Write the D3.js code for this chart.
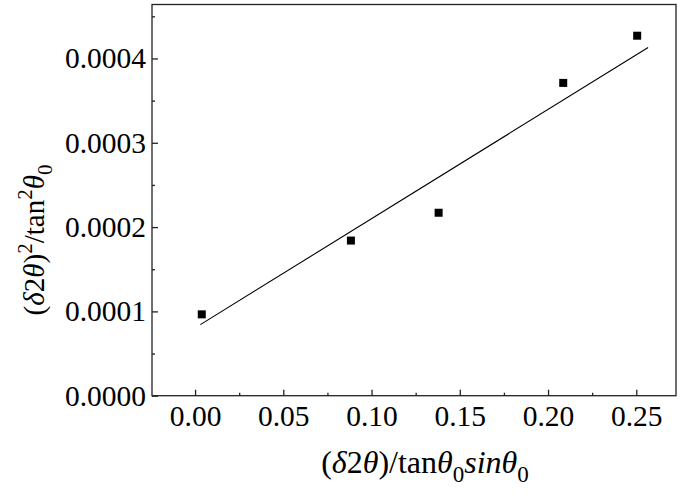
<!DOCTYPE html>
<html>
<head>
<meta charset="utf-8">
<script src="https://cdn.jsdelivr.net/npm/d3@7"></script>
<style>
  body { margin: 0; background: #fff; }
  text { font-family: "Liberation Serif", "Times New Roman", serif; }
</style>
</head>
<body>
<div id="chart"></div>
<script>
// measured points
var ptX = [0.0038, 0.0883, 0.138, 0.2086, 0.2505];
var ptY = [0.0000965, 0.000184, 0.000217, 0.000371, 0.000427];

// fitted line end points
var fitX = [0.003, 0.2567];
var fitY = [0.0000843, 0.000413];

var xTicks = [0.00, 0.05, 0.10, 0.15, 0.20, 0.25];
var xMinor = [0.025, 0.075, 0.125, 0.175, 0.225];
var yTicks = [0.0000, 0.0001, 0.0002, 0.0003, 0.0004];
var yMinor = [0.00005, 0.00015, 0.00025, 0.00035, 0.00045];

var w = 685, h = 500;
var pLeft = 152, pTop = 4.5, pRight = 676, pBottom = 395.7;

var x = d3.scaleLinear().domain([-0.0244, 0.2725]).range([pLeft, pRight]);
var y = d3.scaleLinear().domain([0, 0.000464]).range([pBottom, pTop]);

var svg = d3.select("#chart").append("svg")
    .attr("width", w)
    .attr("height", h);

// frame
svg.append("rect")
    .attr("x", pLeft).attr("y", pTop)
    .attr("width", pRight - pLeft).attr("height", pBottom - pTop)
    .attr("fill", "none")
    .attr("stroke", "#222")
    .attr("stroke-width", 1.3);

// bottom axis
var xAxis = svg.append("g")
    .attr("transform", "translate(0," + pBottom + ")")
    .call(d3.axisBottom(x).tickValues(xTicks).tickFormat(d3.format(".2f"))
        .tickSizeInner(-6).tickSizeOuter(0).tickPadding(9));
xAxis.select(".domain").remove();
xAxis.selectAll("text").style("font-size", "29.5px").attr("fill", "#000");
xAxis.selectAll("line").attr("stroke", "#222").attr("stroke-width", 1.3);

var xAxisMinor = svg.append("g")
    .attr("transform", "translate(0," + pBottom + ")")
    .call(d3.axisBottom(x).tickValues(xMinor).tickFormat("")
        .tickSizeInner(-3).tickSizeOuter(0));
xAxisMinor.select(".domain").remove();
xAxisMinor.selectAll("line").attr("stroke", "#222").attr("stroke-width", 1.3);

// left axis
var yAxis = svg.append("g")
    .attr("transform", "translate(" + pLeft + ",0)")
    .call(d3.axisLeft(y).tickValues(yTicks).tickFormat(d3.format(".4f"))
        .tickSizeInner(-6).tickSizeOuter(0).tickPadding(6));
yAxis.select(".domain").remove();
yAxis.selectAll("text").style("font-size", "29.5px").attr("fill", "#000");
yAxis.selectAll("line").attr("stroke", "#222").attr("stroke-width", 1.3);

var yAxisMinor = svg.append("g")
    .attr("transform", "translate(" + pLeft + ",0)")
    .call(d3.axisLeft(y).tickValues(yMinor).tickFormat("")
        .tickSizeInner(-3).tickSizeOuter(0));
yAxisMinor.select(".domain").remove();
yAxisMinor.selectAll("line").attr("stroke", "#222").attr("stroke-width", 1.3);

// fit line
var line = d3.line()
    .x(function(d) { return x(d[0]); })
    .y(function(d) { return y(d[1]); });

svg.append("path")
    .datum(d3.zip(fitX, fitY))
    .attr("d", line)
    .attr("fill", "none")
    .attr("stroke", "#000")
    .attr("stroke-width", 1.1);

// points
var sq = 8;
svg.append("g").selectAll("rect")
    .data(d3.zip(ptX, ptY))
    .enter()
    .append("rect")
    .attr("x", function(d) { return x(d[0]) - sq / 2; })
    .attr("y", function(d) { return y(d[1]) - sq / 2; })
    .attr("width", sq)
    .attr("height", sq)
    .attr("fill", "#000");

// x title: (δ2θ)/tanθ0 sinθ0
var xt = svg.append("text")
    .attr("x", 425)
    .attr("y", 473)
    .attr("text-anchor", "middle")
    .style("font-size", "32px");
xt.append("tspan").text("(");
xt.append("tspan").style("font-style", "italic").text("δ");
xt.append("tspan").text("2");
xt.append("tspan").style("font-style", "italic").text("θ");
xt.append("tspan").text(")/tan");
xt.append("tspan").style("font-style", "italic").text("θ");
xt.append("tspan").attr("dy", 9).style("font-size", "23px").text("0");
xt.append("tspan").attr("dy", -9).style("font-style", "italic").text("sin");
xt.append("tspan").style("font-style", "italic").text("θ");
xt.append("tspan").attr("dy", 9).style("font-size", "23px").text("0");

// y title: (δ2θ)^2/tan^2θ0
var yt = svg.append("text")
    .attr("transform", "translate(44,240) rotate(-90)")
    .attr("text-anchor", "middle")
    .style("font-size", "29px");
yt.append("tspan").text("(");
yt.append("tspan").style("font-style", "italic").text("δ");
yt.append("tspan").text("2");
yt.append("tspan").style("font-style", "italic").text("θ");
yt.append("tspan").text(")");
yt.append("tspan").attr("dy", -12).style("font-size", "21px").text("2");
yt.append("tspan").attr("dy", 12).text("/tan");
yt.append("tspan").attr("dy", -12).style("font-size", "21px").text("2");
yt.append("tspan").attr("dy", 12).style("font-style", "italic").text("θ");
yt.append("tspan").attr("dy", 8).style("font-size", "21px").text("0");
</script>
</body>
</html>
